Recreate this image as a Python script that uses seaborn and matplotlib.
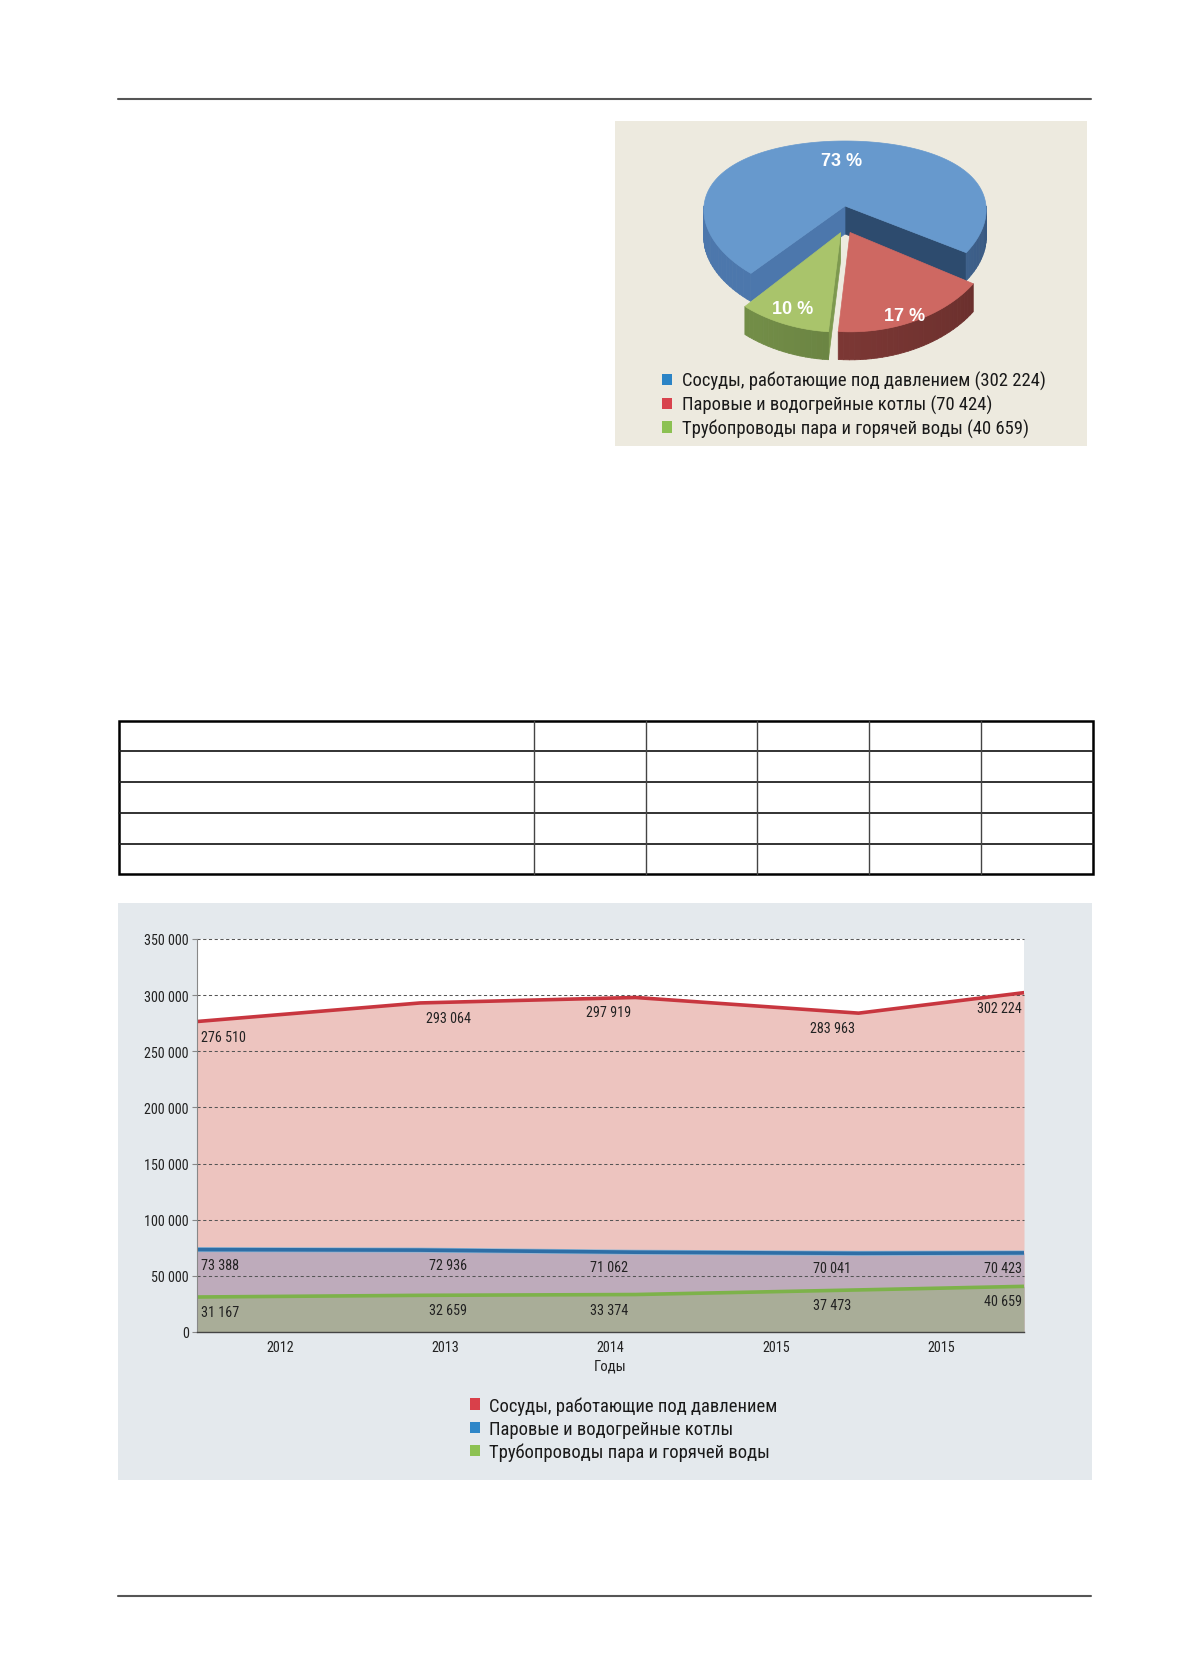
import numpy as np
import pandas as pd
import matplotlib
matplotlib.use('Agg')
import matplotlib.pyplot as plt
import matplotlib.colors as mcolors
import matplotlib.patheffects as pe
import seaborn as sns
from matplotlib import font_manager as fm
from matplotlib.patches import Rectangle, Polygon, Patch
from matplotlib.collections import PolyCollection
from matplotlib.ticker import FuncFormatter

sns.set_style('white')
names = {f.name for f in fm.fontManager.ttflist}
NARROW = next((n for n in ['Roboto Condensed', 'PT Sans Narrow', 'Liberation Sans Narrow',
                           'Fira Sans Condensed', 'IBM Plex Sans Condensed', 'Liberation Sans']
               if n in names), 'DejaVu Sans')
plt.rcParams['font.family'] = [NARROW, 'DejaVu Sans']

# ---- data ----
series_names = ['Сосуды, работающие под давлением',
                'Паровые и водогрейные котлы',
                'Трубопроводы пара и горячей воды']
pie_values = [302224, 70424, 40659]

years = ['2012', '2013', '2014', '2015', '2015']
point_x = [0, 1.35, 2.65, 4.0, 5]          # where the line kinks sit on the category axis
vessels = [276510, 293064, 297919, 283963, 302224]
boilers = [73388, 72936, 71062, 70041, 70423]
pipes = [31167, 32659, 33374, 37473, 40659]

legend_colors = ['#D9404A', '#2E86C8', '#8CC152']
pie_legend_colors = ['#2B84C6', '#D8434D', '#8CC152']


def spaced(v):
    return f'{int(v):,}'.replace(',', ' ')


W, H = 1179, 1681
fig = plt.figure(figsize=(W / 100, H / 100), dpi=100)
fig.patch.set_facecolor('white')


def rect(x0, y0, x1, y1):
    return [x0 / W, 1 - y1 / H, (x1 - x0) / W, (y1 - y0) / H]


# page furniture
bg = fig.add_axes([0, 0, 1, 1])
bg.set_xlim(0, W)
bg.set_ylim(H, 0)
bg.axis('off')
bg.plot([118, 1091], [100, 100], color='#555555', lw=1.5)
bg.plot([118, 1091], [1597, 1597], color='#555555', lw=1.5)
bg.add_patch(Rectangle((615, 122), 472, 325, fc='#EDEADF', ec='none'))
bg.add_patch(Rectangle((118, 904), 974, 577, fc='#E4E9ED', ec='none'))

# empty table
tx = [119, 534, 646, 757, 869, 981, 1093]
ty = [722, 752, 783, 814, 845, 875]
for y in ty[1:-1]:
    bg.plot([tx[0], tx[-1]], [y, y], color='#222222', lw=1.3)
for x in tx[1:-1]:
    bg.plot([x, x], [ty[0], ty[-1]], color='#444444', lw=1.0)
bg.add_patch(Rectangle((tx[0], ty[0]), tx[-1] - tx[0], ty[-1] - ty[0],
                       fill=False, ec='black', lw=1.8))

# ---- 3D pie ----
ax_pie = fig.add_axes(rect(615, 122, 1087, 447))
ax_pie.set_xlim(615, 1087)
ax_pie.set_ylim(447, 122)
ax_pie.axis('off')

CX, CY, A, BM, BQ, K, DEPTH = 845, 207, 141, 78, 13, 0.05, 28


def proj(u, v):
    return CX + A * u * (1 - K * v), CY - BM * v + BQ * v * v


def shade(c, f):
    r, g, b = mcolors.to_rgb(c)
    f = min(f, 1.0)
    return (r * f, g * f, b * f)


pie_top = ['#6799CD', '#CE6862', '#A9C46B']
pie_wall = ['#4C77AC', '#843B38', '#728D47']
pie_face = ['#2D4B6E', '#5E2828', '#7D994F']
explode = [0.0, 0.08, 0.08]
pull = [0.0, 0.25, 0.25]
label_r = [0.66, 0.95, 0.85]
label_dx = [10, -8, 0]

total = sum(pie_values)
fracs = [v / total for v in pie_values]
edges = 230.0 - 360 * np.concatenate([[0], np.cumsum(fracs)])

for i in range(3):
    hi, lo = edges[i], edges[i + 1]
    mid = np.radians((hi + lo) / 2)
    ox = explode[i] * np.cos(mid)
    oy = explode[i] * np.sin(mid) - pull[i]

    def rim(t):
        return proj(ox + np.cos(np.radians(t)), oy + np.sin(np.radians(t)))

    apex = proj(ox, oy)
    # radial faces
    faces = []
    if np.cos(np.radians(lo)) > 0:
        faces.append((lo, pie_face[i]))
    if np.cos(np.radians(hi)) < 0:
        faces.append((hi, pie_wall[i] if i == 0 else pie_face[i]))
    for ang, col in faces:
        rx, ry = rim(ang)
        ax_pie.add_patch(Polygon([apex, (rx, ry), (rx, ry + DEPTH), (apex[0], apex[1] + DEPTH)],
                                 closed=True, fc=col, ec=col, lw=0.5))
    # outer wall on the front half
    quads, cols = [], []
    for k in range(-2, 2):
        a0, a1 = max(lo, 180 + 360 * k), min(hi, 360 + 360 * k)
        if a1 <= a0:
            continue
        ts = np.linspace(a0, a1, max(int((a1 - a0) / 2), 2))
        for t0, t1 in zip(ts[:-1], ts[1:]):
            x0, y0 = rim(t0)
            x1, y1 = rim(t1)
            quads.append([(x0, y0), (x1, y1), (x1, y1 + DEPTH), (x0, y0 + DEPTH)])
            tm = ((t0 + t1) / 2) % 360
            cols.append(shade(pie_wall[i], 1.12 - 0.38 * (tm - 180) / 180))
    if quads:
        ax_pie.add_collection(PolyCollection(quads, facecolors=cols, edgecolors=cols, linewidths=0.6))
    # top
    ts = np.linspace(lo, hi, 200)
    top = [apex] + [rim(t) for t in ts]
    ax_pie.add_patch(Polygon(top, closed=True, fc=pie_top[i], ec=pie_top[i], lw=0.5))
    # percentage label
    lx, ly = proj(ox + label_r[i] * np.cos(mid), oy + label_r[i] * np.sin(mid))
    ax_pie.text(lx + label_dx[i], ly, f'{fracs[i] * 100:.0f} %', ha='center', va='center',
                color='white', fontsize=13, fontweight='bold', family=['Liberation Sans', 'DejaVu Sans'])

pie_texts = [f'{n} ({spaced(v)})' for n, v in zip(series_names, pie_values)]
ax_pie.legend([Patch(fc=c, ec='none') for c in pie_legend_colors], pie_texts,
              loc='upper left', bbox_to_anchor=(662, 372), bbox_transform=ax_pie.transData,
              frameon=False, fontsize=13.4, handlelength=0.55, handleheight=0.55,
              handletextpad=0.5, labelspacing=0.25, borderpad=0, borderaxespad=0,
              labelcolor='#1a1a1a')

# ---- area / line chart ----
ax = fig.add_axes(rect(197, 940, 1024, 1333))
ax.set_facecolor('white')
ax.fill_between(point_x, vessels, color='#EDC4BF', lw=0, zorder=1)
ax.fill_between(point_x, boilers, color='#BEABBB', lw=0, zorder=1.1)
ax.fill_between(point_x, pipes, color='#A9AD98', lw=0, zorder=1.2)

yticks = np.arange(0, 350001, 50000)
for yv in yticks[1:]:
    ax.axhline(yv, color='#555555', lw=0.75, ls=(0, (3, 2.5)), zorder=1.5, clip_on=False)

df = pd.DataFrame({
    'x': point_x * 3,
    'value': vessels + boilers + pipes,
    'series': [series_names[0]] * 5 + [series_names[1]] * 5 + [series_names[2]] * 5,
})
n_before = len(ax.lines)
sns.lineplot(data=df, x='x', y='value', hue='series', hue_order=series_names,
             palette=['#C8363F', '#2E6EA6', '#7DB24A'], linewidth=2.6,
             legend=False, errorbar=None, sort=False, ax=ax, zorder=3)
ax.lines[n_before + 1].set_path_effects([pe.Stroke(linewidth=3.6, foreground='#8DB6D6'), pe.Normal()])

label_x = [0, 1.52, 2.49, 3.84, 5]
for vals in (vessels, boilers, pipes):
    for j, v in enumerate(vals):
        if j == 0:
            ha, dx = 'left', 4
        elif j == len(vals) - 1:
            ha, dx = 'right', -2
        else:
            ha, dx = 'center', 0
        ax.annotate(spaced(v), (label_x[j], v), xytext=(dx, -15), textcoords='offset pixels',
                    ha=ha, va='center', fontsize=10.2, color='#222222', zorder=4)

ax.set_xlim(0, 5)
ax.set_ylim(0, 350000)
ax.set_yticks(yticks)
ax.yaxis.set_major_formatter(FuncFormatter(lambda v, p: spaced(v)))
ax.set_xticks(range(6))
ax.set_xticklabels([])
ax.set_xticks(np.arange(5) + 0.5, minor=True)
ax.set_xticklabels(years, minor=True)
ax.tick_params(axis='x', which='major', length=5, width=0.8, color='#666666', direction='out')
ax.tick_params(axis='x', which='minor', length=0, pad=6, labelsize=10.2, labelcolor='#222222')
ax.tick_params(axis='y', length=3.6, width=0.8, color='#888888', pad=2.2, labelsize=10.2,
               labelcolor='#222222', left=True)
ax.set_xlabel('Годы', fontsize=10.6, color='#222222', labelpad=3)
ax.set_ylabel('')
for s in ('top', 'right'):
    ax.spines[s].set_visible(False)
ax.spines['left'].set_color('#888888')
ax.spines['left'].set_linewidth(0.8)
ax.spines['bottom'].set_color('#444444')
ax.spines['bottom'].set_linewidth(1.0)
ax.spines['left'].set_zorder(5)
ax.spines['bottom'].set_zorder(5)

fig.legend([Patch(fc=c, ec='none') for c in legend_colors], series_names,
           loc='upper left', bbox_to_anchor=(470 / W, 1 - 1397 / H),
           frameon=False, fontsize=13.4, handlelength=0.55, handleheight=0.55,
           handletextpad=0.48, labelspacing=0.28, borderpad=0, borderaxespad=0,
           labelcolor='#1a1a1a')

fig.savefig('out.png', dpi=100, facecolor='white')
